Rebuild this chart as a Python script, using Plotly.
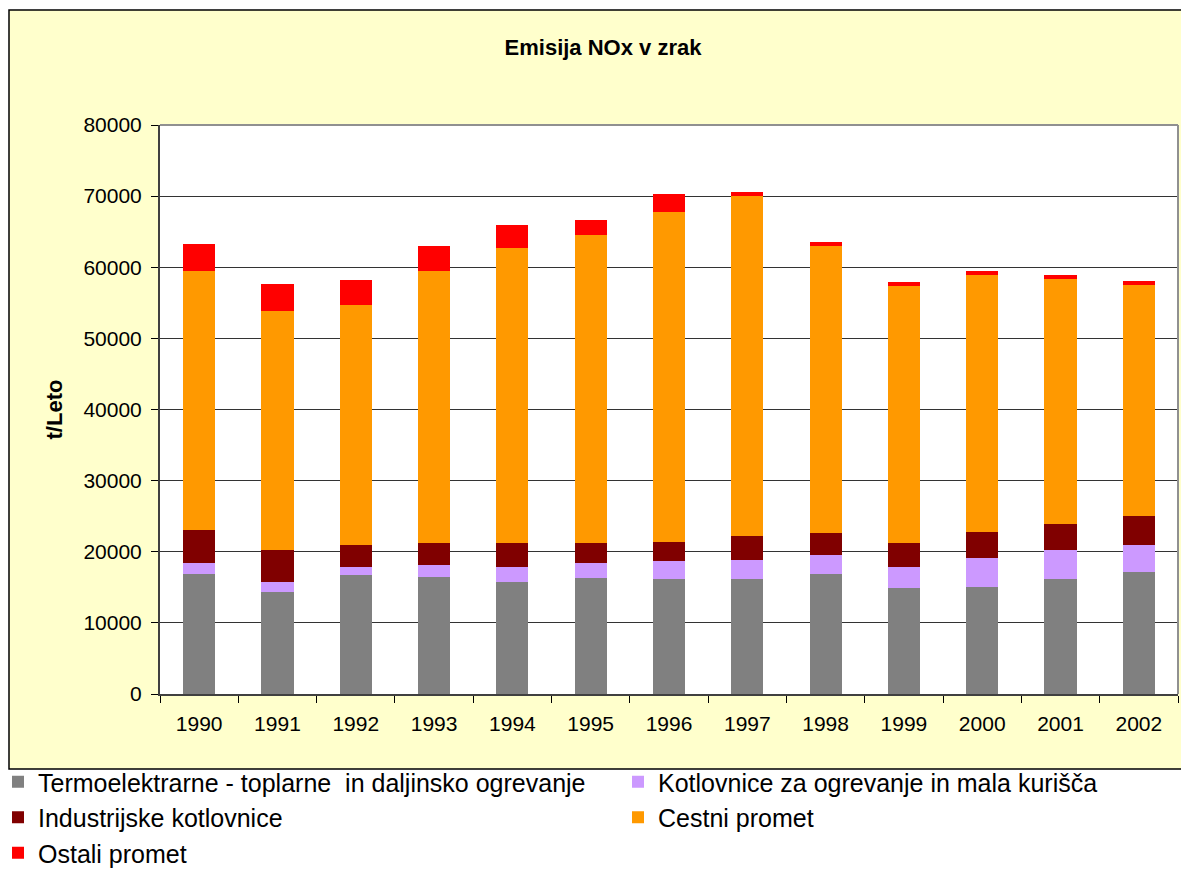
import plotly.graph_objects as go

years = ["1990", "1991", "1992", "1993", "1994", "1995", "1996",
         "1997", "1998", "1999", "2000", "2001", "2002"]

# t/leto po virih (ocenjeno s slike)
termoelektrarne = [16900, 14400, 16800, 16500, 15800, 16350, 16100,
                   16100, 16900, 14950, 15100, 16200, 17200]
kotlovnice_ogrevanje = [1560, 1400, 1100, 1700, 2000, 2000, 2650,
                        2800, 2700, 2950, 4050, 4100, 3800]
industrijske = [4640, 4500, 3100, 3100, 3400, 2950, 2650,
                3350, 3100, 3370, 3650, 3650, 4080]
cestni = [36400, 33600, 33700, 38200, 41500, 43300, 46400,
          47800, 40300, 36130, 36150, 34450, 32470]
ostali = [3800, 3800, 3500, 3500, 3200, 2000, 2500,
          560, 560, 560, 560, 560, 560]

# (ime, vrednosti, barva, legenda) - legenda v dveh stolpcih
series = [
    ("Termoelektrarne - toplarne \u00a0in daljinsko ogrevanje", termoelektrarne, "#808080", "legend"),
    ("Kotlovnice za ogrevanje in mala kurišča", kotlovnice_ogrevanje, "#CC99FF", "legend2"),
    ("Industrijske kotlovnice", industrijske, "#800000", "legend"),
    ("Cestni promet", cestni, "#FF9900", "legend2"),
    ("Ostali promet", ostali, "#FF0000", "legend"),
]

fig = go.Figure()
for name, vals, color, leg in series:
    fig.add_trace(go.Bar(x=years, y=vals, name=name, legend=leg,
                         marker=dict(color=color, line=dict(width=0))))

# page has 8px body margin -> figure coords = page coords - 8
OFF = 8
W, H = 1189 - OFF, 870 - OFF
L, R, T, B = 160 - OFF, 1178 - OFF, 125 - OFF, 694 - OFF
pw, ph = R - L, B - T


def px(x):
    return (x - OFF - L) / pw


def py(y):
    return (B - (y - OFF)) / ph


# yellow chart area + white plot area
fig.add_shape(type="rect", xref="paper", yref="paper", layer="below",
              x0=px(9), x1=px(1200), y0=py(769), y1=py(10),
              fillcolor="#FFFFCC", line=dict(color="black", width=1.5))
fig.add_shape(type="rect", xref="paper", yref="paper", layer="below",
              x0=0, x1=1, y0=0, y1=1,
              fillcolor="white", line=dict(width=0))
# light grey top/right border of plot area
fig.add_shape(type="line", xref="paper", yref="paper", x0=0, x1=1, y0=1, y1=1,
              line=dict(color="#909090", width=2))
fig.add_shape(type="line", xref="paper", yref="paper", x0=1, x1=1, y0=0, y1=1,
              line=dict(color="#909090", width=2))

legend_common = dict(orientation="v", xanchor="left", yanchor="top",
                     font=dict(size=25, color="black"),
                     bgcolor="rgba(0,0,0,0)", itemwidth=30, traceorder="normal")

fig.update_layout(
    width=W, height=H,
    margin=dict(l=L, r=W - R, t=T, b=H - B, autoexpand=False),
    paper_bgcolor="white",
    plot_bgcolor="white",
    barmode="stack",
    bargap=0.59,
    font=dict(family="Liberation Sans, Arial, sans-serif", color="black", size=21),
    title=dict(text="<b>Emisija NOx v zrak</b>", xref="container",
               x=(603 - OFF) / W, xanchor="center",
               y=1 - (47 - OFF) / H, yanchor="middle", font=dict(size=22)),
    xaxis=dict(type="category", showgrid=False, tickson="boundaries",
               ticks="outside", ticklen=7, tickcolor="black",
               showline=True, linecolor="#404040", linewidth=2,
               ticklabelstandoff=10, tickfont=dict(size=21)),
    yaxis=dict(range=[0, 80000], dtick=10000, tickformat="d",
               showgrid=True, gridcolor="#333333", gridwidth=1,
               ticks="outside", ticklen=7, tickcolor="black",
               showline=True, linecolor="#404040", linewidth=2,
               zeroline=False, ticklabelstandoff=5, tickfont=dict(size=21),
               title=dict(text="<b>t/Leto</b>", font=dict(size=22), standoff=15)),
    legend=dict(x=px(-2), y=py(759), **legend_common),
    legend2=dict(x=px(618), y=py(759), **legend_common),
    showlegend=True,
)

fig.write_html("out.html")
